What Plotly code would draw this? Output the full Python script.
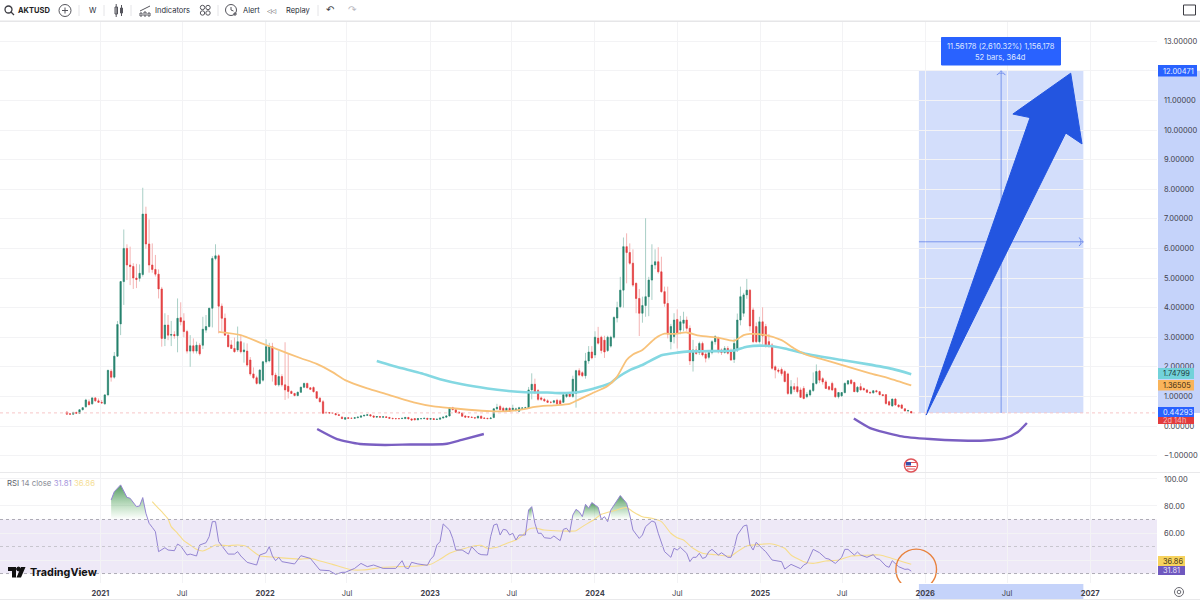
import pandas as pd
import plotly.graph_objects as go

W, H = 1200, 601
FONT = "Inter"

# weekly candles, first one at 2020-10-19
opens = [
    .47, .41, .40, .46, .43, .55, .65, .82, .75, .95,
    .85, .80, .75, 1.05, 1.85, 1.65, 2.36, 3.45, 4.88, 6.00,
    5.44, 5.39, 5.00, 4.99, 5.12, 7.16, 6.15, 5.44, 5.29, 5.13,
    4.63, 2.96, 3.41, 3.07, 3.09, 3.05, 3.66, 3.55, 3.19, 2.53,
    2.71, 2.53, 2.73, 2.73, 3.24, 3.36, 3.98, 5.66, 5.75, 4.05,
    3.64, 3.07, 2.74, 2.62, 2.57, 2.85, 2.51, 2.53, 2.23, 1.76,
    1.63, 1.44, 1.55, 2.17, 2.20, 2.68, 1.72, 1.39, 1.67, 1.39,
    1.34, 1.17, 1.10, 1.03, 1.14, 1.31, 1.44, 1.29, 1.30, 1.16,
    .94, .82, .46, .45, .44, .42, .38, .30, .23, .28,
    .26, .26, .28, .30, .34, .36, .38, .34, .30, .32,
    .30, .31, .29, .26, .25, .25, .25, .25, .29, .24,
    .25, .21, .25, .25, .26, .23, .25, .22, .23, .27,
    .30, .34, .62, .55, .47, .44, .34, .32, .30, .28,
    .27, .33, .27, .26, .25, .29, .58, .66, .60, .52,
    .60, .55, .52, .50, .60, .60, .60, 1.22, 1.41, 1.20,
    .95, .90, .85, .80, .80, .87, .85, .80, 1.00, 1.10,
    1.00, 1.10, 1.87, 1.80, 1.70, 2.20, 2.50, 2.40, 2.97, 3.00,
    2.90, 2.55, 2.70, 3.00, 3.65, 4.03, 4.59, 6.06, 5.86, 5.50,
    4.82, 4.31, 3.81, 4.07, 4.37, 4.93, 5.44, 5.55, 5.21, 4.54,
    4.14, 2.85, 3.02, 3.60, 3.24, 3.47, 3.58, 3.30, 2.20, 2.57,
    2.48, 2.79, 2.43, 2.32, 2.48, 2.85, 2.99, 2.57, 2.48, 2.62,
    2.50, 2.25, 2.62, 3.58, 3.81, 4.43, 4.59, 3.92, 3.36, 2.85,
    3.52, 3.36, 2.85, 2.74, 2.00, 1.89, 1.91, 1.84, 1.76, 1.10,
    1.33, 1.33, 1.22, 1.27, .99, 1.05, 1.20, 1.44, 1.86, 1.60,
    1.49, 1.33, 1.44, 1.27, .99, 1.02, 1.13, 1.42, 1.55, 1.47,
    1.16, 1.33, 1.27, 1.22, 1.14, 1.12, 1.19, 1.16, 1.06, 1.06,
    .82, .68, .91, .71, .71, .58, .51, .49,
]
highs = [
    .49, .44, .47, .48, .56, .64, .92, .90, .97, .98,
    .93, .88, 1.08, 1.90, 1.92, 2.50, 3.55, 4.90, 6.64, 6.14,
    6.06, 5.50, 5.48, 5.46, 8.05, 7.41, 6.98, 6.17, 5.78, 5.29,
    4.70, 3.81, 3.75, 3.55, 3.20, 4.31, 4.18, 3.81, 3.25, 3.07,
    2.96, 2.85, 2.80, 3.69, 3.75, 3.98, 5.74, 6.14, 5.80, 4.14,
    3.80, 3.12, 2.90, 2.99, 3.36, 3.07, 2.82, 2.79, 2.33, 1.98,
    1.70, 1.92, 2.20, 2.93, 2.81, 2.81, 1.80, 2.53, 1.75, 2.83,
    2.45, 1.20, 1.12, 1.16, 1.32, 1.46, 1.46, 1.31, 1.34, 1.18,
    .98, .88, .48, .46, .45, .43, .39, .33, .29, .29,
    .27, .29, .31, .35, .37, .39, .39, .35, .33, .33,
    .32, .32, .30, .27, .26, .26, .27, .30, .30, .25,
    .26, .26, .26, .27, .27, .26, .26, .24, .28, .31,
    .35, .63, .65, .57, .48, .45, .35, .33, .31, .29,
    .34, .35, .28, .27, .29, .60, .75, .72, .65, .62,
    .63, .72, .62, .65, .63, .65, 1.32, 1.78, 1.60, 1.25,
    1.00, .95, .90, .84, .88, .92, .90, 1.08, 1.10, 1.15,
    1.70, 1.90, 1.95, 1.85, 2.47, 2.70, 2.70, 3.20, 3.35, 3.05,
    3.05, 3.05, 3.05, 3.70, 4.20, 5.04, 6.37, 6.51, 6.17, 5.97,
    4.85, 4.63, 4.37, 7.02, 5.04, 6.14, 5.97, 6.04, 5.72, 4.71,
    4.71, 3.45, 3.81, 3.94, 3.72, 3.86, 3.70, 3.40, 2.91, 2.70,
    2.85, 2.85, 2.50, 2.50, 2.90, 3.07, 3.02, 2.62, 2.70, 2.70,
    2.62, 2.95, 3.80, 4.71, 4.50, 4.97, 4.62, 4.00, 3.50, 3.69,
    4.01, 3.45, 3.11, 2.80, 2.05, 1.95, 1.98, 1.90, 1.80, 1.55,
    1.45, 1.64, 1.30, 1.35, 1.15, 1.25, 1.81, 2.08, 1.90, 1.65,
    1.55, 1.36, 1.50, 1.30, 1.15, 1.15, 1.47, 1.55, 1.58, 1.50,
    1.35, 1.45, 1.30, 1.25, 1.16, 1.21, 1.22, 1.18, 1.08, 1.08,
    .86, .92, .95, .73, .75, .60, .55, .51,
]
lows = [
    .39, .38, .39, .42, .42, .53, .62, .70, .72, .82,
    .78, .76, .72, 1.03, 1.50, 1.60, 2.33, 3.07, 4.09, 4.93,
    4.76, 4.63, 4.66, 4.88, 5.05, 5.99, 5.18, 5.18, 5.05, 4.31,
    2.68, 2.70, 2.90, 2.70, 2.95, 2.49, 3.40, 3.00, 2.45, 2.00,
    2.45, 2.45, 2.38, 2.60, 3.15, 3.33, 3.33, 5.60, 3.13, 3.19,
    3.05, 2.66, 2.60, 2.48, 2.50, 2.45, 2.14, 2.00, 1.70, 1.58,
    1.40, 1.40, 1.50, 2.11, 2.15, 1.50, 1.36, 1.33, 1.33, .88,
    .93, 1.08, 1.00, 1.00, 1.12, 1.28, 1.28, 1.22, 1.13, .92,
    .80, .40, .44, .43, .42, .37, .35, .24, .22, .25,
    .25, .25, .27, .29, .33, .35, .33, .29, .29, .29,
    .29, .28, .25, .24, .24, .24, .24, .24, .23, .19,
    .20, .20, .23, .24, .22, .22, .21, .21, .22, .26,
    .29, .33, .54, .45, .42, .32, .29, .29, .27, .26,
    .26, .25, .25, .24, .24, .26, .55, .53, .50, .50,
    .48, .52, .50, .48, .55, .58, .58, .90, 1.08, .85,
    .85, .82, .78, .76, .76, .70, .70, .78, .95, .97,
    .95, .62, 1.68, 1.65, 1.60, 2.10, 2.25, 2.30, 2.75, 2.45,
    2.30, 2.50, 2.65, 2.95, 3.50, 3.98, 4.00, 4.82, 5.45, 4.70,
    3.81, 3.04, 3.49, 3.69, 3.71, 4.26, 5.30, 5.15, 4.50, 4.03,
    2.96, 2.59, 2.79, 2.62, 3.10, 3.20, 3.20, 2.06, 1.84, 2.40,
    2.40, 2.35, 2.15, 2.25, 2.42, 2.75, 2.45, 2.40, 2.45, 2.42,
    2.20, 2.13, 2.50, 3.40, 3.69, 4.30, 3.20, 2.80, 2.80, 2.79,
    2.75, 2.65, 2.65, 1.90, 1.61, 1.78, 1.70, 1.48, 1.05, 1.05,
    1.15, 1.10, .95, .90, .94, 1.00, 1.15, 1.40, 1.45, 1.40,
    1.25, 1.20, 1.18, .95, .93, .98, 1.10, 1.38, 1.40, 1.15,
    1.12, 1.20, 1.20, 1.12, 1.10, 1.10, 1.14, 1.04, 1.00, .72,
    .68, .65, .68, .62, .58, .50, .49, .44,
]
closes = [
    .40, .40, .46, .43, .55, .62, .88, .72, .95, .85,
    .80, .78, 1.05, 1.88, 1.65, 2.36, 3.43, 4.88, 6.00, 5.44,
    5.39, 5.00, 4.95, 5.16, 7.16, 6.15, 5.44, 5.29, 5.13, 4.63,
    2.96, 3.41, 3.07, 3.09, 3.05, 3.64, 3.52, 3.19, 2.53, 2.71,
    2.53, 2.73, 2.44, 3.27, 3.36, 3.98, 5.66, 5.75, 4.05, 3.64,
    3.07, 2.68, 2.62, 2.51, 2.85, 2.51, 2.57, 2.06, 1.76, 1.63,
    1.44, 1.89, 2.17, 2.68, 2.68, 1.72, 1.39, 1.67, 1.39, 1.22,
    1.17, 1.10, 1.03, 1.14, 1.31, 1.44, 1.29, 1.24, 1.16, .94,
    .82, .43, .45, .44, .44, .38, .36, .25, .28, .26,
    .26, .28, .30, .34, .36, .38, .34, .30, .32, .30,
    .31, .29, .26, .25, .25, .25, .26, .29, .24, .20,
    .21, .25, .25, .26, .23, .25, .22, .23, .27, .30,
    .34, .62, .55, .46, .44, .33, .30, .30, .29, .27,
    .33, .26, .26, .25, .27, .58, .63, .55, .52, .60,
    .50, .60, .58, .62, .61, .62, 1.22, 1.41, 1.13, .90,
    .90, .85, .80, .80, .85, .75, .75, 1.06, 1.07, 1.00,
    1.58, 1.87, 1.72, 1.70, 2.20, 2.50, 2.30, 3.00, 2.80, 2.55,
    2.50, 3.00, 3.00, 3.67, 4.00, 4.59, 6.06, 5.86, 5.50, 4.76,
    4.31, 3.81, 4.07, 4.37, 4.93, 5.44, 5.55, 5.21, 4.54, 4.14,
    3.11, 3.36, 3.58, 3.13, 3.52, 3.58, 3.30, 2.20, 2.57, 2.45,
    2.79, 2.40, 2.29, 2.48, 2.85, 3.02, 2.51, 2.48, 2.62, 2.46,
    2.23, 2.79, 3.58, 4.37, 4.43, 4.59, 3.38, 2.85, 2.85, 3.52,
    3.04, 2.70, 2.70, 1.95, 1.89, 1.85, 1.77, 1.50, 1.10, 1.33,
    1.24, 1.16, .97, .93, 1.07, 1.20, 1.44, 1.84, 1.55, 1.49,
    1.27, 1.24, 1.22, .99, 1.13, 1.13, 1.44, 1.53, 1.44, 1.16,
    1.31, 1.22, 1.22, 1.14, 1.12, 1.19, 1.16, 1.06, 1.03, .76,
    .71, .91, .71, .65, .60, .51, .52, .44,
]

# moving averages, sampled at these week numbers
ema_fast_weeks = [48, 55, 61, 67, 74, 79, 84, 88, 95, 101, 110, 116, 122, 127, 134,
                  139, 145, 148, 154, 159, 162, 166, 171, 174, 177, 179, 182, 186, 189, 192,
                  196, 200, 206, 211, 214, 216, 221, 226, 230, 234, 239, 246, 254, 260, 267]
ema_fast = [3.18, 3.07, 2.82, 2.57, 2.29, 2.10, 1.82, 1.55, 1.27, 1.08, .79, .66, .60, .55, .50,
            .50, .58, .65, .70, .75, .90, 1.10, 1.35, 1.67, 2.23, 2.42, 2.57, 2.96, 3.12, 3.11,
            3.16, 3.05, 2.98, 2.88, 3.07, 3.11, 3.07, 2.90, 2.62, 2.40, 2.25, 2.03, 1.78, 1.61, 1.37]
ema_slow_weeks = [98, 106, 112, 118, 125, 133, 139, 145, 152, 156, 162, 168, 172, 174, 178,
                  182, 188, 193, 197, 203, 211, 215, 221, 227, 234, 245, 253, 261, 267]
ema_slow = [2.20, 1.95, 1.78, 1.58, 1.41, 1.27, 1.19, 1.14, 1.13, 1.11, 1.15, 1.31, 1.46, 1.63, 1.89,
            2.06, 2.39, 2.48, 2.52, 2.53, 2.55, 2.68, 2.71, 2.62, 2.43, 2.23, 2.09, 1.93, 1.75]

rsi_weeks = [
    14, 15, 17, 19, 20, 22, 23, 24, 25, 26,
    27, 28, 29, 31, 32, 34, 35, 36, 38, 39,
    41, 42, 44, 45, 46, 47, 48, 51, 53, 54,
    55, 57, 60, 61, 63, 64, 65, 66, 67, 68,
    72, 74, 77, 80, 83, 85, 87, 88, 91, 93,
    95, 97, 100, 104, 106, 107, 108, 109, 111, 114,
    115, 116, 117, 118, 119, 121, 122, 123, 125, 126,
    127, 128, 130, 131, 133, 134, 135, 136, 137, 138,
    139, 140, 141, 142, 143, 144, 145, 146, 147, 148,
    149, 150, 151, 153, 154, 155, 156, 157, 158, 159,
    160, 161, 162, 163, 164, 165, 166, 168, 169, 170,
    171, 172, 175, 177, 178, 179, 181, 182, 183, 185,
    186, 187, 188, 189, 191, 192, 193, 194, 196, 197,
    198, 199, 200, 201, 202, 203, 204, 206, 207, 209,
    210, 211, 212, 214, 215, 216, 217, 218, 220, 221,
    223, 226, 227, 229, 232, 233, 234, 236, 238, 240,
    241, 243, 245, 246, 247, 249, 250, 251, 253, 255,
    256, 257, 259, 260, 261, 262, 263, 265, 266, 267,
]
rsi = [
    84.4, 90.6, 95.6, 86.4, 85.7, 79.5, 80, 86.2, 74.6, 67.2,
    64.2, 61, 46.2, 49.1, 47.4, 46.9, 51.8, 50.4, 43.7, 44.4,
    43, 51.1, 52.8, 57.3, 68.4, 68.4, 53.6, 44.4, 44.4, 46.2,
    43, 38.3, 36.3, 43.7, 45.4, 49.9, 43, 39.5, 42, 38.8,
    37.1, 43.2, 41.2, 32.6, 32.1, 29.4, 30.9, 30.9, 33.8, 37.5,
    35.1, 36.3, 33.8, 33.8, 39.5, 34.3, 33.6, 38.3, 37.1, 36.1,
    40.5, 43, 51.1, 53.6, 66.7, 62.2, 56.1, 47.4, 47.4, 46.2,
    44.4, 49.9, 45, 44, 43.7, 57.3, 65.9, 66.7, 58.5, 62.7,
    62.2, 58.5, 59.8, 54.8, 58.5, 58.5, 58.5, 77, 79.5, 67.2,
    59.8, 59.8, 56.5, 56, 57.8, 56, 54.3, 62.7, 63.5, 60.5,
    73.3, 77.5, 75.8, 72.1, 81.2, 78.3, 82.5, 79, 70.1, 72.1,
    68.4, 77, 87.7, 82, 73.3, 62.2, 56, 58.5, 64.7, 68.9,
    67.9, 59.8, 53.6, 46.2, 42, 48.7, 47.4, 49.4, 45, 38.8,
    42, 42, 45, 41.2, 42, 46.2, 47.9, 43.7, 45.4, 42,
    42, 48.7, 58.5, 65.2, 65.9, 51.1, 47.4, 53.1, 48.2, 46.2,
    40, 38.8, 33.3, 36.8, 33.6, 36.3, 37.5, 47.9, 45.4, 41.2,
    40.7, 37.5, 42, 47.9, 47.9, 43.7, 45.9, 43.7, 42, 44,
    41.2, 40.5, 35.6, 34.6, 39.5, 37.1, 35.1, 33.1, 33.3, 31.81,
]
rsi_ma_weeks = [
    27, 28, 30, 32, 33, 35, 37, 39, 41, 43,
    45, 47, 51, 54, 57, 59, 61, 63, 66, 70,
    74, 77, 80, 84, 87, 90, 93, 96, 100, 105,
    111, 115, 118, 121, 124, 129, 131, 133, 136, 139,
    142, 144, 146, 148, 151, 156, 161, 163, 167, 169,
    173, 177, 179, 182, 185, 188, 191, 193, 195, 198,
    201, 204, 210, 212, 215, 219, 223, 227, 229, 233,
    236, 240, 244, 248, 252, 257, 261, 267,
]
rsi_ma = [
    83.2, 80.7, 75.8, 70.4, 64.7, 59.8, 54.3, 51.1, 47.9, 46.7,
    48.7, 51.1, 50.6, 51.1, 49.9, 46.2, 43, 42.5, 42, 41.2,
    40.7, 41.2, 39.3, 36.8, 34.6, 32.8, 32.6, 33.3, 34.6, 35.1,
    35.6, 36.8, 40.5, 45, 47.4, 50.6, 50.9, 48.7, 49.4, 52.3,
    54.8, 58, 62.7, 63.7, 62.2, 61.5, 61.7, 64.7, 70.4, 73.8,
    76.5, 78.8, 75.8, 72.1, 70.9, 68.4, 59.8, 56.5, 54.8, 48.7,
    45, 44.2, 43, 46.2, 50.4, 51.6, 51.9, 48.7, 43.7, 38.8,
    37.5, 39.3, 40, 43, 43.5, 43.7, 41.2, 36.86,
]

# things drawn on the chart by hand
brush_left_dates = ["2022-04-26", "2022-06-09", "2022-07-30", "2022-09-23", "2022-11-18",
                    "2023-02-03", "2023-03-12", "2023-04-30"]
brush_left = [-.10, -.44, -.61, -.64, -.625, -.61, -.47, -.27]
brush_right_dates = ["2025-07-27", "2025-09-01", "2025-11-06", "2026-01-11", "2026-03-19",
                     "2026-05-13", "2026-06-27", "2026-07-25", "2026-08-14"]
brush_right = [.25, -.07, -.34, -.44, -.49, -.49, -.41, -.20, .10]
arrow_dates = ["2026-01-03", "2026-08-21", "2026-07-14", "2026-11-19", "2026-12-14", "2026-11-08", "2026-01-03"]
arrow_prices = [.37, 10.42, 10.54, 11.92, 9.53, 9.90, .37]

box_start, box_mid, box_end = "2025-12-18", "2026-06-18", "2026-12-17"
box_low, box_mid_price, box_high = .44293, 6.224, 12.00471
last_price = .44293

tick_dates = ["2021-01-01", "2021-07-01", "2022-01-01", "2022-07-01", "2023-01-01", "2023-07-01", "2024-01-01",
              "2024-07-01", "2025-01-01", "2025-07-01", "2026-01-01", "2026-07-01", "2027-01-01"]
tick_labels = ["<b>2021</b>", "Jul", "<b>2022</b>", "Jul", "<b>2023</b>", "Jul", "<b>2024</b>",
               "Jul", "<b>2025</b>", "Jul", "<b>2026</b>", "Jul", "<b>2027</b>"]
price_ticks = [-1, 0, 1, 2, 3, 4, 5, 6, 7, 8, 9, 10, 11, 12, 13]
rsi_ticks = [40, 60, 80, 100]

dates = pd.date_range("2020-10-19", periods=len(closes), freq="7D")


def px(x):
    return x / W


def py(y):
    return 1 - y / H


def on_weeks(weeks):
    return [dates[w] for w in weeks]


fig = go.Figure()

# wicks light, bodies solid, so two candlestick layers
fig.add_trace(go.Candlestick(
    x=dates, open=opens, high=highs, low=lows, close=closes,
    increasing=dict(line=dict(color="#a9cfc6", width=1), fillcolor="#a9cfc6"),
    decreasing=dict(line=dict(color="#f4b4b4", width=1), fillcolor="#f4b4b4"),
    hoverinfo="skip", showlegend=False,
))
fig.add_trace(go.Candlestick(
    x=dates, open=opens, close=closes,
    high=[max(o, c) for o, c in zip(opens, closes)],
    low=[min(o, c) for o, c in zip(opens, closes)],
    increasing=dict(line=dict(color="#25806c", width=0.5), fillcolor="#25806c"),
    decreasing=dict(line=dict(color="#e23b3d", width=0.5), fillcolor="#e23b3d"),
    hoverinfo="skip", showlegend=False,
))


def add_line(x, y, color, width, axis="y", smooth=True):
    line = dict(color=color, width=width)
    if smooth:
        line.update(shape="spline", smoothing=0.6)
    fig.add_trace(go.Scatter(x=x, y=y, mode="lines", line=line, yaxis=axis,
                             hoverinfo="skip", showlegend=False))


add_line(on_weeks(ema_slow_weeks), ema_slow, "#84d8e2", 2.6)
add_line(on_weeks(ema_fast_weeks), ema_fast, "#f8c27a", 1.8)
add_line(brush_left_dates, brush_left, "#7a5fc2", 2.4)
add_line(brush_right_dates, brush_right, "#7a5fc2", 2.4)

# position tool crosshair
for xs, ys, angle in [([box_mid, box_mid], [box_low, box_high], 0),
                      ([box_start, box_end], [box_mid_price, box_mid_price], 90)]:
    fig.add_trace(go.Scatter(
        x=xs, y=ys, mode="lines+markers",
        line=dict(color="rgba(41,84,225,0.65)", width=0.8),
        marker=dict(symbol="arrow-wide-open", size=[0, 6], angle=angle,
                    color="rgba(41,84,225,0.65)", line=dict(width=0.8, color="rgba(41,84,225,0.65)")),
        hoverinfo="skip", showlegend=False,
    ))

fig.add_trace(go.Scatter(
    x=arrow_dates, y=arrow_prices, mode="lines", fill="toself", fillcolor="#2355e0",
    line=dict(color="#2355e0", width=1, shape="linear"), hoverinfo="skip", showlegend=False,
))

# green areas where rsi goes over 70
segment = []
for w, v in list(zip(rsi_weeks, rsi)) + [(None, 0)]:
    if v > 70:
        segment.append((w, v))
        continue
    if len(segment) > 1:
        xs = [dates[s[0]] for s in segment]
        ys = [s[1] for s in segment]
        fig.add_trace(go.Scatter(
            x=[xs[0]] + xs + [xs[-1], xs[0]], y=[70] + ys + [70, 70], yaxis="y2",
            mode="none", fill="toself",
            fillgradient=dict(type="vertical", start=70, stop=max(ys),
                              colorscale=[[0, "rgba(76,175,80,0)"], [1, "rgba(40,125,60,0.8)"]]),
            hoverinfo="skip", showlegend=False,
        ))
    segment = []

add_line(on_weeks(rsi_ma_weeks), rsi_ma, "#f7dd8b", 1.1, "y2")
add_line(on_weeks(rsi_weeks), rsi, "#9485d2", 1, "y2", smooth=False)

shapes = [
    # position box and its marks on the axes
    dict(type="rect", xref="x", yref="y", x0=box_start, x1=box_end, y0=box_low, y1=box_high,
         fillcolor="#d3defb", line_width=0, layer="below"),
    dict(type="rect", xref="paper", yref="y", x0=px(1158), x1=1, y0=box_low, y1=box_high,
         fillcolor="#c5d3fa", line_width=0, layer="below"),
    dict(type="rect", xref="x", yref="paper", x0=box_start, x1=box_end, y0=py(599), y1=py(584),
         fillcolor="#c5d3fa", line_width=0, layer="below"),
    # last price
    dict(type="line", xref="paper", yref="y", x0=0, x1=px(1157), y0=last_price, y1=last_price,
         line=dict(color="#f7c6c8", width=1, dash="dot")),
    # rsi band
    dict(type="rect", xref="paper", yref="y2", x0=0, x1=px(1157), y0=30, y1=70,
         fillcolor="rgba(126,87,194,0.13)", line_width=0, layer="below"),
    # orange circle, cut by the pane
    dict(type="circle", xref="x", yref="y2", x0="2025-10-28", x1="2026-01-26", y0=17.8, y1=48.1,
         line=dict(color="#e8813c", width=1.4)),
    # pane separators
    dict(type="rect", xref="paper", yref="paper", x0=0, x1=1, y0=py(22), y1=py(20.5),
         fillcolor="#e6e6e8", line_width=0),
    dict(type="line", xref="paper", yref="paper", x0=0, x1=1, y0=py(472.5), y1=py(472.5),
         line=dict(color="#e9e9eb", width=1)),
    dict(type="line", xref="paper", yref="paper", x0=0, x1=1, y0=py(599.5), y1=py(599.5),
         line=dict(color="#e9e9eb", width=1)),
]
for level, color in [(70, "#aeacb6"), (50, "#c8c6cf"), (30, "#aeacb6")]:
    shapes.append(dict(type="line", xref="paper", yref="y2", x0=0, x1=px(1157), y0=level, y1=level,
                       line=dict(color=color, width=1, dash="3px,3px")))


def px_rect(x0, y0, x1, y1, **kw):
    shapes.append(dict(type="rect", xref="paper", yref="paper", x0=px(x0), x1=px(x1), y0=py(y1), y1=py(y0), **kw))


def px_circle(cx, cy, r, color="#3b3b42", width=1, fill=None):
    shapes.append(dict(type="circle", xref="paper", yref="paper", x0=px(cx - r), x1=px(cx + r),
                       y0=py(cy + r), y1=py(cy - r), line=dict(color=color, width=width), fillcolor=fill))


def px_line(x0, y0, x1, y1, color="#3b3b42", width=1):
    shapes.append(dict(type="line", xref="paper", yref="paper", x0=px(x0), x1=px(x1), y0=py(y0), y1=py(y1),
                       line=dict(color=color, width=width)))


# toolbar icons
px_circle(8.5, 9.5, 3.5, width=1.3)
px_line(11, 12, 14, 15, width=1.3)
px_circle(65, 10.5, 6, color="#55555c", width=1)
px_line(62, 10.5, 68, 10.5, color="#55555c")
px_line(65, 7.5, 65, 13.5, color="#55555c")
for x in [79, 104, 131, 218, 318]:
    px_line(x, 5, x, 16, color="#e4e4e7")
px_rect(115, 7, 117.5, 14, line=dict(color="#55555c", width=1))
px_line(116.2, 4, 116.2, 17, color="#55555c")
px_rect(120.5, 8, 122.5, 13, line=dict(color="#55555c", width=1))
px_line(121.5, 5, 121.5, 16, color="#55555c")
px_line(140, 11, 150, 6, color="#55555c")
px_rect(140, 13, 142, 16, line=dict(color="#55555c", width=1))
px_rect(144, 12, 146, 16, line=dict(color="#55555c", width=1))
px_rect(148, 13, 150, 16, line=dict(color="#55555c", width=1))
for cx in [202.5, 208]:
    for cy in [7.5, 13]:
        px_circle(cx, cy, 2.2, color="#55555c")
px_circle(231, 10, 5.5, color="#55555c")
px_line(231, 7, 231, 10, color="#55555c")
px_line(231, 10, 233.5, 11, color="#55555c")
px_line(233, 14, 237, 14, color="#55555c")
px_line(235, 12, 235, 16, color="#55555c")
shapes.append(dict(type="rect", xref="paper", yref="paper", x0=px(1183.5), x1=px(1195.5), y0=py(15), y1=py(5),
                   line=dict(color="#3b3b42", width=1)))
px_circle(1179, 592, 4.5, color="#6a6a72")
px_circle(1179, 592, 1.8, color="#6a6a72")
# logo
shapes.append(dict(type="path", xref="paper", yref="paper", fillcolor="#111111", line_width=0,
                   path=f"M{px(8)},{py(567)} L{px(16)},{py(567)} L{px(16)},{py(577.5)} L{px(12)},{py(577.5)} "
                        f"L{px(12)},{py(571)} L{px(8)},{py(571)} Z "
                        f"M{px(21)},{py(567)} L{px(25.5)},{py(567)} L{px(21)},{py(577.5)} L{px(16.5)},{py(577.5)} Z"))
px_circle(18.5, 569, 1.9, color="#111111", fill="#111111")
# flag
px_circle(911, 465.5, 6.5, color="#e0555a", width=1.5, fill="#ffffff")
px_rect(906, 462, 911, 465.5, fillcolor="#3a4fa8", line_width=0)
px_line(911, 462.5, 916, 462.5, color="#e0555a")
px_line(906, 466.5, 916, 466.5, color="#e0555a")
px_line(907, 469, 915, 469, color="#e0555a")

annotations = []


def label(x, y, text, size=7.5, color="#2a2e39", anchor="left", family=FONT):
    annotations.append(dict(xref="paper", yref="paper", x=px(x), y=py(y), text=text, showarrow=False,
                            xanchor=anchor, yanchor="middle", align="left" if anchor == "left" else "center",
                            borderpad=0, font=dict(family=family, size=size, color=color)))


label(17, 10.5, "<b>AKTUSD</b>", color="#1f1f25")
label(88, 11, "W")
label(153.5, 11, "Indicators")
label(241.5, 11, "Alert")
label(284.5, 11, "Replay")
label(272, 10.5, "◁◁", size=6, color="#3b3b42", anchor="center", family="DejaVu Sans")
label(330, 10, "↶", size=10, color="#3b3b42", anchor="center", family="DejaVu Sans")
label(352, 10, "↷", size=10, color="#b9b9bf", anchor="center", family="DejaVu Sans")

label(6, 483, '<span style="color:#5d5f6b">RSI</span> <span style="color:#8a8c96">14 close</span> '
              '<span style="color:#a596dc">31.81</span> <span style="color:#f5de95">36.86</span>', size=7.8)
label(29, 572.5, "<b>TradingView</b>", size=10.8, color="#111111")

# tool tooltip
px_rect(941.5, 37.5, 1060.5, 65, fillcolor="#2962ff", line=dict(color="#2962ff", width=1))
label(1001, 46.5, "11.56178 (2,610.32%) 1,156,178", size=7.6, color="#dfe7ff", anchor="center")
label(1001, 57.5, "52 bars, 364d", size=7.6, color="#dfe7ff", anchor="center")

# axis price tags
for y0, y1, x1, fill, text, color in [
    (65, 76.5, 1197, "#2962ff", "12.00471", "#e8eeff"),
    (368, 379, 1194, "#72d2da", "1.74799", "#1d3a40"),
    (380, 390.5, 1194, "#f9b45a", "1.36505", "#3d2c12"),
    (407, 417, 1194, "#2962ff", "0.44293", "#e8eeff"),
    (417, 424, 1194, "#e23b3d", "2d 14h", "#f6bcbc"),
    (556, 566, 1185, "#f7d35e", "36.86", "#3d3212"),
    (566, 575, 1185, "#6f58bf", "31.81", "#e8e2fa"),
]:
    px_rect(1158, y0, x1, y1, fillcolor=fill, line_width=0)
    label(1162, (y0 + y1) / 2 + .3, text, size=7.4, color=color)

fig.update_layout(
    width=W, height=H, margin=dict(l=0, r=0, t=0, b=0, autoexpand=False),
    paper_bgcolor="#ffffff", plot_bgcolor="#ffffff",
    font=dict(family=FONT, size=7.5, color="#3f414c"),
    showlegend=False, shapes=shapes, annotations=annotations, boxgap=0.45,
    xaxis=dict(
        domain=[0, px(1157)], anchor="y2", type="date", range=["2020-05-24", "2027-05-29"],
        tickmode="array", tickvals=tick_dates, ticktext=tick_labels, ticks="", ticklen=0,
        tickfont=dict(family=FONT, size=7.5, color="#3f414c"),
        showgrid=True, gridcolor="#f3f3f5", gridwidth=1, zeroline=False, showline=False,
        rangeslider=dict(visible=False), ticklabelstandoff=4,
    ),
    yaxis=dict(
        domain=[py(472), py(22)], anchor="x", side="right", range=[-1.554, 13.65],
        tickmode="array", tickvals=price_ticks,
        # 12 sits under the blue tag
        ticktext=["" if t == 12 else ("−" if t < 0 else "") + f"{abs(t):.5f}" for t in price_ticks],
        tickfont=dict(family=FONT, size=7.5, color="#3f414c"), ticks="", ticklabelstandoff=6,
        showgrid=True, gridcolor="#f3f3f5", zeroline=False, showline=False,
    ),
    yaxis2=dict(
        domain=[py(583), py(473)], anchor="x", side="right", range=[23, 104.4],
        tickmode="array", tickvals=rsi_ticks, ticktext=["" if t == 40 else f"{t:.2f}" for t in rsi_ticks],
        tickfont=dict(family=FONT, size=7.5, color="#3f414c"), ticks="", ticklabelstandoff=6,
        showgrid=True, gridcolor="#f3f3f5", zeroline=False, showline=False,
    ),
)

fig.write_html("out.html", config=dict(displayModeBar=False),
               post_script="document.body.style.margin='0';")
